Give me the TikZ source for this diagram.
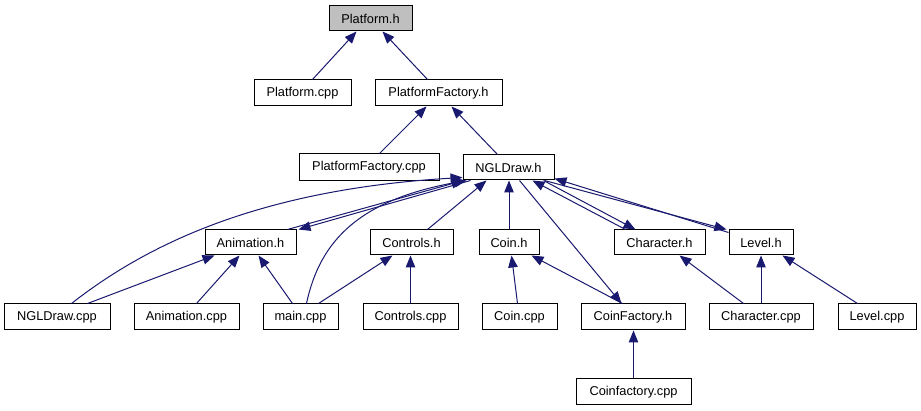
\documentclass[tikz,border=0pt]{standalone}
\usepackage{fontspec}
\setmainfont{Liberation Sans}
\usetikzlibrary{arrows.meta}
\definecolor{edgec}{HTML}{191970}
\definecolor{rootfill}{HTML}{BFBFBF}
\begin{document}
\begin{tikzpicture}[x=1pt,y=-1pt,
  box/.style={draw=black, line width=1pt, fill=white, minimum height=26pt, inner sep=0pt, font=\fontsize{12.8}{15}\selectfont},
  e/.style={draw=edgec, line width=1pt, -{Triangle[length=12pt,width=9.5pt]}}]
\useasboundingbox[fill=white] (0,0) rectangle (921,411);
% nodes
\node[box, fill=rootfill, minimum width=83pt, minimum height=25pt] (ph) at (370.5,18.5) {Platform.h};
\node[box, minimum width=97pt] (pcpp) at (302.5,93) {Platform.cpp};
\node[box, minimum width=127pt] (pfh) at (438.5,93) {PlatformFactory.h};
\node[box, minimum width=140pt, minimum height=27pt] (pfcpp) at (369,167.5) {PlatformFactory.cpp};
\node[box, minimum width=91pt, minimum height=25pt] (ngl) at (508.5,167.5) {NGLDraw.h};
\node[box, minimum width=91pt, minimum height=25pt] (anim) at (250.5,242.5) {Animation.h};
\node[box, minimum width=83pt, minimum height=25pt] (ctrl) at (411.5,242.5) {Controls.h};
\node[box, minimum width=60pt, minimum height=25pt] (coin) at (509,242.5) {Coin.h};
\node[box, minimum width=91pt, minimum height=25pt] (chh) at (659.5,242.5) {Character.h};
\node[box, minimum width=64pt, minimum height=25pt] (lvl) at (761,242.5) {Level.h};
\node[box, minimum width=106pt] (nglcpp) at (57,317) {NGLDraw.cpp};
\node[box, minimum width=105pt] (animcpp) at (186.5,317) {Animation.cpp};
\node[box, minimum width=75pt] (main) at (300.5,317) {main.cpp};
\node[box, minimum width=95pt] (ctrlcpp) at (410.5,317) {Controls.cpp};
\node[box, minimum width=75pt] (coincpp) at (519.5,317) {Coin.cpp};
\node[box, minimum width=104pt] (cfh) at (633,317) {CoinFactory.h};
\node[box, minimum width=104pt] (chcpp) at (761,317) {Character.cpp};
\node[box, minimum width=78pt] (lvlcpp) at (877,317) {Level.cpp};
\node[box, minimum width=115pt] (cfcpp) at (633.5,392) {Coinfactory.cpp};
% edges (arrow points at the included header)
\draw[e] ([xshift=59pt]pcpp.north west) -- ([xshift=28pt]ph.south west);
\draw[e] ([xshift=53pt]pfh.north west) -- ([xshift=54pt]ph.south west);
\draw[e] ([xshift=81pt]pfcpp.north west) -- ([xshift=52pt]pfh.south west);
\draw[e] ([xshift=35pt]ngl.north west) -- ([xshift=77pt]pfh.south west);
% NGLDraw.h fan
\draw[e] ([xshift=68pt]nglcpp.north west) .. controls (140,250) and (250,190) .. ([yshift=3pt]ngl.south west);
\draw[e] ([xshift=-9pt]anim.north east) -- ([xshift=1pt]ngl.south west);
\draw[e] ([xshift=8pt]ngl.south west) -- ([xshift=2pt]anim.north east);
\draw[e] ([xshift=44pt]main.north west) .. controls (320,240) and (360,200) .. ([xshift=4pt]ngl.south west);
\draw[e] ([xshift=58pt]ctrl.north west) -- ([xshift=24pt]ngl.south west);
\draw[e] (coin.north) -- (coin.north |- ngl.south);
\draw[e] ([xshift=57pt]ngl.south west) -- ([xshift=41pt]cfh.north west);
\draw[e] ([xshift=81pt]ngl.south west) -- ([xshift=22pt]chh.north west);
\draw[e] ([xshift=12pt]chh.north west) -- ([xshift=70pt]ngl.south west);
\draw[e] ([xshift=-10pt]ngl.south east) -- ([xshift=-2pt]lvl.north west);
\draw[e] ([yshift=-3pt]lvl.north west) -- ([yshift=2pt]ngl.south east);
% lower rows
\draw[e] ([xshift=84pt]nglcpp.north west) -- ([xshift=10pt]anim.south west);
\draw[e] ([xshift=63pt]animcpp.north west) -- ([xshift=35pt]anim.south west);
\draw[e] ([xshift=30pt]main.north west) -- ([xshift=54pt]anim.south west);
\draw[e] ([xshift=56pt]main.north west) -- ([xshift=23pt]ctrl.south west);
\draw[e] (ctrlcpp.north) -- (ctrlcpp.north |- ctrl.south);
\draw[e] ([xshift=36pt]coincpp.north west) -- ([xshift=33pt]coin.south west);
\draw[e] ([xshift=42pt]cfh.north west) -- ([xshift=53pt]coin.south west);
\draw[e] (cfcpp.north) -- (cfcpp.north |- cfh.south);
\draw[e] ([xshift=35pt]chcpp.north west) -- ([xshift=66pt]chh.south west);
\draw[e] (chcpp.north) -- (lvl.south);
\draw[e] ([xshift=20pt]lvlcpp.north west) -- ([xshift=54pt]lvl.south west);
\end{tikzpicture}
\end{document}
